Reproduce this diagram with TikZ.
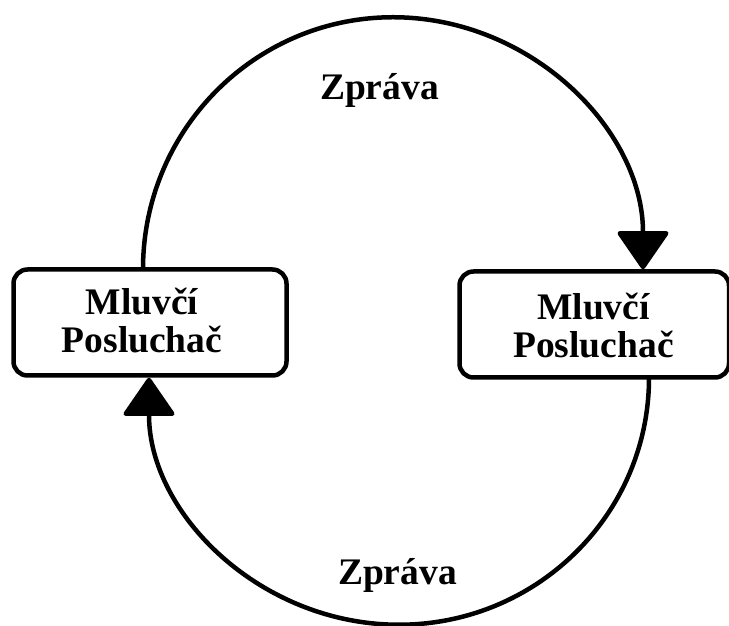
\documentclass[tikz,border=0pt]{standalone}
\usepackage{fontspec}
\setmainfont{Liberation Serif}
\usetikzlibrary{arrows.meta,calc}
\begin{document}
\begin{tikzpicture}[x=1pt,y=1pt,
  box/.style={draw, line width=4.5pt, rounded corners=14pt, inner sep=0pt, minimum height=106pt},
  lbl/.style={font=\fontsize{37.5pt}{38pt}\selectfont\bfseries, align=center, inner sep=0pt, anchor=base},
  conn/.style={line width=4.5pt, -{Triangle[length=40pt,width=54pt,round]}}
]
\useasboundingbox (0,0) rectangle (729,626);
\node[box, minimum width=273pt] (L) at (150,303.5) {};
\node[box, minimum width=269.5pt] (R) at (594.25,301.5) {};
\node[lbl] (Lt) at (142,273) {Mluvčí\\Posluchač};
\node[lbl] (Rt) at (593.5,268) {Mluvčí\\Posluchač};
\node[lbl] (Mtop) at (379.5,526) {Zpráva};
\node[lbl] (Mbot) at (397.5,41) {Zpráva};
\draw[conn] ([xshift=-7pt,yshift=-2pt]L.north) arc[start angle=180,end angle=0,x radius=250,y radius=252];
\draw[conn] ([xshift=54.75pt,yshift=2pt]R.south) arc[start angle=0,end angle=-180,x radius=250,y radius=247];
\end{tikzpicture}
\end{document}
